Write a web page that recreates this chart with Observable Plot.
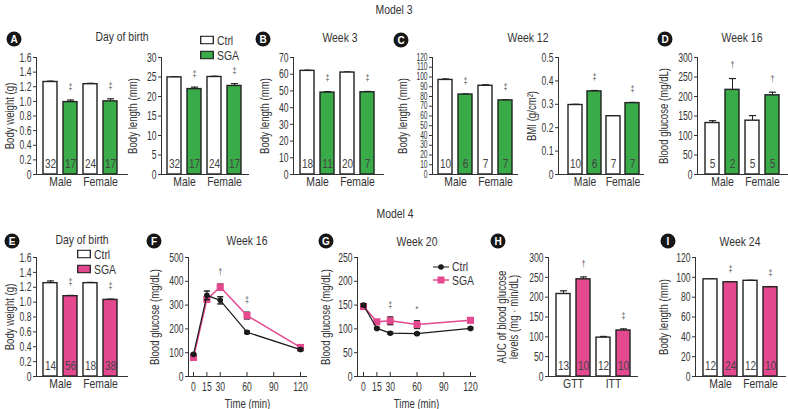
<!DOCTYPE html>
<html>
<head>
<meta charset="utf-8">
<script src="https://cdn.jsdelivr.net/npm/d3@7"></script>
<script src="https://cdn.jsdelivr.net/npm/@observablehq/plot@0.6"></script>
<style>
  body { margin: 0; background: #fff; }
  #fig { position: relative; width: 788px; height: 409px; overflow: hidden; background: #fff;
         font-family: "Liberation Sans", Arial, sans-serif; color: #333; }
  .panel { position: absolute; }
  .t { position: absolute; font-size: 13px; line-height: 1; transform: translate(-50%, -50%) scaleX(0.8); white-space: nowrap; }
  .lt { position: absolute; font-size: 13px; line-height: 1; transform-origin: left center; transform: translate(0, -50%) scaleX(0.8); white-space: nowrap; }
  .letter { position: absolute; width: 15px; height: 15px; border-radius: 50%; background: #161616; color: #fff;
            font: bold 10px "Liberation Sans", Arial, sans-serif; display: flex; align-items: center; justify-content: center;
            transform: translate(-50%, -50%); }
  .sw { position: absolute; transform: translate(0, -50%); line-height: 0; }
</style>
</head>
<body>
<div id="fig"></div>
<script>
// ---------------- DATA ----------------
const sexGroups = ["Male", "Female"];
const tolGroups = ["GTT", "ITT"];
const seriesNames = ["Ctrl", "SGA"];
const timePoints = [0, 15, 30, 60, 120];
const timeTicks = [0, 15, 30, 60, 90, 120];

// Model 3 (green)
const aWeight = [1.265, 0.99, 1.235, 1.0];
const aWeightErr = [0.012, 0.028, 0.012, 0.035];
const aN = [32, 17, 24, 17];
const aSig = ["", "‡", "", "‡"];
const aLength = [24.9, 21.9, 25.0, 22.7];
const aLengthErr = [0.2, 0.5, 0.2, 0.6];
const bLength = [62.0, 49.0, 61.0, 49.2];
const bLengthErr = [0.4, 0.6, 0.4, 0.5];
const bN = [18, 11, 20, 7];
const cLength = [97, 82, 91, 76];
const cLengthErr = [1.0, 0.6, 1.0, 0.6];
const cBmi = [0.297, 0.355, 0.249, 0.305];
const cBmiErr = [0.003, 0.004, 0.002, 0.003];
const cN = [10, 6, 7, 7];
const dGlucose = [132, 217, 138, 203];
const dGlucoseErr = [6, 29, 13, 8];
const dN = [5, 2, 5, 5];
const dSig = ["", "†", "", "†"];
const sigDD = ["", "‡", "", "‡"];

// Model 4 (pink)
const eWeight = [1.255, 1.08, 1.255, 1.03];
const eWeightErr = [0.03, 0.01, 0.01, 0.01];
const eN = [14, 56, 18, 38];
const fCtrl = [93, 341, 320, 186, 113];
const fCtrlErr = [4, 18, 15, 5, 5];
const fSga = [80, 324, 376, 256, 122];
const fSgaErr = [5, 8, 12, 14, 6];
const fSig = ["", "", "†", "‡", ""];
const gCtrl = [150, 101, 91, 90, 101];
const gCtrlErr = [3, 2, 2, 2, 2];
const gSga = [147, 115, 117, 109, 118];
const gSgaErr = [4, 4, 8, 8, 4];
const gSig = ["", "", "‡", "*", ""];
const hAuc = [208, 245, 98, 116];
const hAucErr = [8, 6, 3, 4];
const hN = [13, 10, 12, 10];
const hSig = ["", "†", "", "‡"];
const iLength = [98, 95, 96.5, 90];
const iLengthErr = [0.5, 0.6, 0.5, 0.7];
const iN = [12, 24, 12, 10];

// tick labels
const weightTicks = [0, 0.2, 0.4, 0.6, 0.8, 1.0, 1.2, 1.4, 1.6];
const len30Ticks = [0, 5, 10, 15, 20, 25, 30];
const len70Ticks = [0, 10, 20, 30, 40, 50, 60, 70];
const len120Ticks = [0, 10, 20, 30, 40, 50, 60, 70, 80, 90, 100, 110, 120];
const bmiTicks = [0, 0.1, 0.2, 0.3, 0.4, 0.5];
const glu300Ticks = [0, 50, 100, 150, 200, 250, 300];
const glu500Ticks = [0, 100, 200, 300, 400, 500];
const glu250Ticks = [0, 50, 100, 150, 200, 250];
const len120by20Ticks = [0, 20, 40, 60, 80, 100, 120];

// ---------------- STYLE ----------------
const FONT = '"Liberation Sans", Arial, sans-serif';
const INK = "#333";
const EDGE = "#222";
const GREEN = "#3aab49";
const PINK = "#e4488f";
const dec1 = d => d === 0 ? "0" : d.toFixed(1);
const cap = { draw(ctx, size) { const w = Math.sqrt(size); ctx.moveTo(-w, 0); ctx.lineTo(w, 0); } };

const fig = document.getElementById("fig");
function place(node, left, top) {
  const div = document.createElement("div");
  div.className = "panel";
  div.style.left = left + "px";
  div.style.top = top + "px";
  div.appendChild(node);
  fig.appendChild(div);
}
function rowGeom(row) {
  return row === 0 ? {top: 45, height: 150, frameTop: 57, frameBottom: 174}
                   : {top: 245, height: 164, frameTop: 257, frameBottom: 376};
}
const baseStyle = {fontFamily: FONT, fontSize: "12px", color: INK, background: "none", overflow: "visible"};

function barPanel(o) {
  const keys = o.groups.flatMap(g => [g + " Ctrl", g + " SGA"]);
  const data = keys.map((k, i) => ({key: k, sga: i % 2 === 1, v: o.vals[i], e: o.errs[i], n: o.ns[i], s: o.sigs[i]}));
  const g = rowGeom(o.row);
  const step = o.step || 20;
  const a = o.c0 - step / 2, b = a + 4 * step;
  const svg = Plot.plot({
    width: o.width, height: g.height,
    marginTop: g.frameTop - g.top, marginBottom: g.top + g.height - g.frameBottom,
    marginLeft: o.fl - o.left, marginRight: o.left + o.width - o.R,
    style: baseStyle,
    x: {type: "band", domain: keys, paddingInner: 1 - 14 / step, paddingOuter: (step - 14) / (2 * step),
        insetLeft: a - o.fl, insetRight: o.R - b, round: false, axis: null},
    y: {domain: o.domain, axis: null},
    marks: [
      Plot.ruleX(data, {x: "key", y1: "v", y2: d => d.v + d.e, stroke: EDGE, strokeWidth: 1}),
      Plot.dot(data, {x: "key", y: d => d.v + d.e, symbol: cap, r: 2, stroke: EDGE, fill: "none", strokeWidth: 1.2}),
      Plot.barY(data.filter(d => !d.sga), {x: "key", y: "v", fill: "#fff", stroke: EDGE, strokeWidth: 1.4}),
      Plot.barY(data.filter(d => d.sga), {x: "key", y: "v", fill: o.color, stroke: EDGE, strokeWidth: 1.4}),
      Plot.text(data, {x: "key", y: 0, text: d => String(d.n), dy: -11, fill: "#444", fontSize: 12.5}),
      Plot.text(data.filter(d => d.s), {x: "key", y: d => d.v + d.e, text: "s", dy: -13, fill: "#555", fontSize: 9}),
      Plot.axisY({ticks: o.ticks, tickFormat: o.fmt, tickSize: 3, tickPadding: 2, label: o.label,
                  labelAnchor: "center", labelArrow: "none", labelOffset: o.lo, stroke: INK}),
      Plot.frame({anchor: "left", stroke: INK}),
      Plot.frame({anchor: "bottom", stroke: INK}),
      Plot.text(o.groups, {x: (d, i) => keys[2 * i], dx: step / 2, frameAnchor: "bottom", dy: 11, fontSize: 13, fill: INK})
    ]
  });
  if (o.tickFont) svg.dataset.tickFont = o.tickFont;
  place(svg, o.left, g.top);
}

function linePanel(o) {
  const ctrlD = timePoints.map((t, i) => ({t, v: o.ctrl[i], e: o.ctrlErr[i]}));
  const sgaD = timePoints.map((t, i) => ({t, v: o.sga[i], e: o.sgaErr[i], s: o.sigs[i]}));
  const g = rowGeom(1);
  const frameH = g.frameBottom - g.frameTop;
  const svg = Plot.plot({
    width: o.width, height: g.height,
    marginTop: g.frameTop - g.top, marginBottom: g.top + g.height - g.frameBottom,
    marginLeft: o.fl - o.left, marginRight: o.left + o.width - o.R,
    style: baseStyle,
    x: {type: "linear", domain: [0, 120], insetLeft: o.x0 - o.fl, insetRight: o.R - o.x120, axis: null},
    y: {domain: o.domain, axis: null},
    marks: [
      Plot.ruleX(sgaD, {x: "t", y1: d => d.v - d.e, y2: d => d.v + d.e, stroke: EDGE}),
      Plot.dot(sgaD, {x: "t", y: d => d.v + d.e, symbol: cap, r: 1.7, stroke: EDGE, fill: "none"}),
      Plot.dot(sgaD, {x: "t", y: d => d.v - d.e, symbol: cap, r: 1.7, stroke: EDGE, fill: "none"}),
      Plot.line(sgaD, {x: "t", y: "v", stroke: PINK, strokeWidth: 1.5}),
      Plot.dot(sgaD, {x: "t", y: "v", symbol: "square", r: 4, fill: PINK, stroke: "none"}),
      Plot.ruleX(ctrlD, {x: "t", y1: d => d.v - d.e, y2: d => d.v + d.e, stroke: EDGE}),
      Plot.dot(ctrlD, {x: "t", y: d => d.v + d.e, symbol: cap, r: 1.7, stroke: EDGE, fill: "none"}),
      Plot.dot(ctrlD, {x: "t", y: d => d.v - d.e, symbol: cap, r: 1.7, stroke: EDGE, fill: "none"}),
      Plot.line(ctrlD, {x: "t", y: "v", stroke: "#1a1a1a", strokeWidth: 1.2}),
      Plot.dot(ctrlD, {x: "t", y: "v", r: 2.8, fill: "#1a1a1a", stroke: "none"}),
      Plot.text(sgaD.filter(d => d.s), {x: "t", y: d => d.v + d.e, text: "s", dy: -12, fill: "#555", fontSize: 9}),
      Plot.axisY({ticks: o.ticks, tickSize: 3, tickPadding: 2, label: o.label,
                  labelAnchor: "center", labelArrow: "none", labelOffset: o.lo, stroke: INK}),
      Plot.tickX(timeTicks, {x: d => d, insetTop: frameH - 4, stroke: INK}),
      Plot.axisX({ticks: timeTicks, tickSize: 0, tickPadding: 5, label: "Time (min)",
                  labelAnchor: "center", labelArrow: "none", labelOffset: 31}),
      Plot.frame({anchor: "left", stroke: INK}),
      Plot.frame({anchor: "bottom", stroke: INK})
    ]
  });
  place(svg, o.left, g.top);
}

// ---------------- PANELS ----------------
// Model 3
barPanel({row: 0, left: 0, width: 132, fl: 36, c0: 50, R: 127, domain: [0, 1.6], ticks: weightTicks, fmt: dec1,
  label: "Body weight (g)", lo: 31, groups: sexGroups, vals: aWeight, errs: aWeightErr, ns: aN, sigs: aSig, color: GREEN});
barPanel({row: 0, left: 125, width: 127, fl: 161, c0: 174, R: 248, domain: [0, 30], ticks: len30Ticks,
  label: "Body length (mm)", lo: 33, groups: sexGroups, vals: aLength, errs: aLengthErr, ns: aN, sigs: aSig, color: GREEN});
barPanel({row: 0, left: 255, width: 132, fl: 293, c0: 307, R: 383, domain: [0, 70], ticks: len70Ticks,
  label: "Body length (mm)", lo: 33, groups: sexGroups, vals: bLength, errs: bLengthErr, ns: bN, sigs: sigDD, color: GREEN});
barPanel({row: 0, left: 392, width: 129, fl: 432, c0: 445, R: 517, domain: [0, 120], ticks: len120Ticks, tickFont: 10,
  label: "Body length (mm)", lo: 34, groups: sexGroups, vals: cLength, errs: cLengthErr, ns: cN, sigs: sigDD, color: GREEN});
barPanel({row: 0, left: 520, width: 127, fl: 558, c0: 575, step: 19, R: 643, domain: [0, 0.5], ticks: bmiTicks, fmt: dec1,
  label: "BMI (g/cm²)", lo: 31, groups: sexGroups, vals: cBmi, errs: cBmiErr, ns: cN, sigs: sigDD, color: GREEN});
barPanel({row: 0, left: 652, width: 136, fl: 697, c0: 712, R: 787, domain: [0, 300], ticks: glu300Ticks,
  label: "Blood glucose (mg/dL)", lo: 38, groups: sexGroups, vals: dGlucose, errs: dGlucoseErr, ns: dN, sigs: dSig, color: GREEN});

// Model 4
barPanel({row: 1, left: 0, width: 132, fl: 36, c0: 50, R: 127, domain: [0, 1.6], ticks: weightTicks, fmt: dec1,
  label: "Body weight (g)", lo: 31, groups: sexGroups, vals: eWeight, errs: eWeightErr, ns: eN, sigs: sigDD, color: PINK});
linePanel({left: 140, width: 170, fl: 188, x0: 193, x120: 300, R: 306, domain: [0, 500], ticks: glu500Ticks,
  label: "Blood glucose (mg/dL)", lo: 38, ctrl: fCtrl, ctrlErr: fCtrlErr, sga: fSga, sgaErr: fSgaErr, sigs: fSig});
linePanel({left: 310, width: 168, fl: 357, x0: 363, x120: 470, R: 475, domain: [0, 250], ticks: glu250Ticks,
  label: "Blood glucose (mg/dL)", lo: 36, ctrl: gCtrl, ctrlErr: gCtrlErr, sga: gSga, sgaErr: gSgaErr, sigs: gSig});
barPanel({row: 1, left: 485, width: 155, fl: 548, c0: 563, R: 637, domain: [0, 300], ticks: glu300Ticks,
  label: "AUC of blood glucose\nlevels (mg · min/dL)", lo: 51, groups: tolGroups, vals: hAuc, errs: hAucErr, ns: hN, sigs: hSig, color: PINK});
barPanel({row: 1, left: 650, width: 138, fl: 695, c0: 710, R: 785, domain: [0, 120], ticks: len120by20Ticks,
  label: "Body length (mm)", lo: 36, groups: sexGroups, vals: iLength, errs: iLengthErr, ns: iN, sigs: sigDD, color: PINK});

// Tick-label font sizes, then condense the SVG text horizontally to mimic the narrow typeface
fig.querySelectorAll("svg").forEach(svg => {
  const size = svg.dataset.tickFont || 13;
  svg.querySelectorAll("g[aria-label]").forEach(gl => {
    if (/tick label/.test(gl.getAttribute("aria-label"))) gl.setAttribute("font-size", size);
  });
});
function squeezeEl(el, f) {
  const L = el.getComputedTextLength();
  if (L > 0) { el.setAttribute("textLength", (L * f).toFixed(2)); el.setAttribute("lengthAdjust", "spacingAndGlyphs"); }
}
fig.querySelectorAll("svg text").forEach(t => {
  const parent = t.closest("g[aria-label]");
  const isTick = parent && /tick label/.test(parent.getAttribute("aria-label"));
  const f = isTick ? 0.66 : 0.8;
  const spans = t.querySelectorAll("tspan");
  if (spans.length) spans.forEach(s => squeezeEl(s, f)); else squeezeEl(t, f);
});

// ---------------- TEXT, LETTERS, LEGENDS ----------------
function txt(s, x, y, cls = "t") {
  const d = document.createElement("div");
  d.className = cls; d.textContent = s;
  d.style.left = x + "px"; d.style.top = y + "px";
  fig.appendChild(d);
}
function letter(s, x, y) {
  const d = document.createElement("div");
  d.className = "letter"; d.textContent = s;
  d.style.left = x + "px"; d.style.top = y + "px";
  fig.appendChild(d);
}
function swatch(x, y, html) {
  const d = document.createElement("div");
  d.className = "sw"; d.innerHTML = html;
  d.style.left = x + "px"; d.style.top = y + "px";
  fig.appendChild(d);
}
txt("Model 3", 394, 9);
txt("Day of birth", 122, 36);
txt("Week 3", 340, 37);
txt("Week 12", 528, 37);
txt("Week 16", 742, 37);
txt("Model 4", 395, 213);
txt("Day of birth", 82, 239);
txt("Week 16", 247, 240);
txt("Week 20", 417, 241);
txt("Week 24", 740, 241);
letter("A", 14, 39); letter("B", 263, 39); letter("C", 401, 40); letter("D", 665, 39);
letter("E", 12, 241); letter("F", 154, 241); letter("G", 326, 241); letter("H", 498, 241); letter("I", 668, 241);

const boxSvg = fill => `<svg width="14" height="9"><rect x="0.7" y="0.7" width="12.6" height="7.6" fill="${fill}" stroke="${EDGE}" stroke-width="1.3"/></svg>`;
// legend A
swatch(200, 40, boxSvg("#fff")); txt(seriesNames[0], 217, 40, "lt");
swatch(200, 55, boxSvg(GREEN)); txt(seriesNames[1], 217, 55, "lt");
// legend E
swatch(77, 254, boxSvg("#fff")); txt(seriesNames[0], 94, 254, "lt");
swatch(77, 269, boxSvg(PINK)); txt(seriesNames[1], 94, 269, "lt");
// legend G
swatch(433, 267, `<svg width="16" height="9"><line x1="0" y1="4.5" x2="16" y2="4.5" stroke="#1a1a1a" stroke-width="1.2"/><circle cx="8" cy="4.5" r="2.8" fill="#1a1a1a"/></svg>`);
txt(seriesNames[0], 452, 266, "lt");
swatch(433, 280, `<svg width="16" height="9"><line x1="0" y1="4.5" x2="16" y2="4.5" stroke="${PINK}" stroke-width="1.5"/><rect x="4.5" y="1" width="7" height="7" fill="${PINK}"/></svg>`);
txt(seriesNames[1], 452, 280, "lt");
</script>
</body>
</html>
